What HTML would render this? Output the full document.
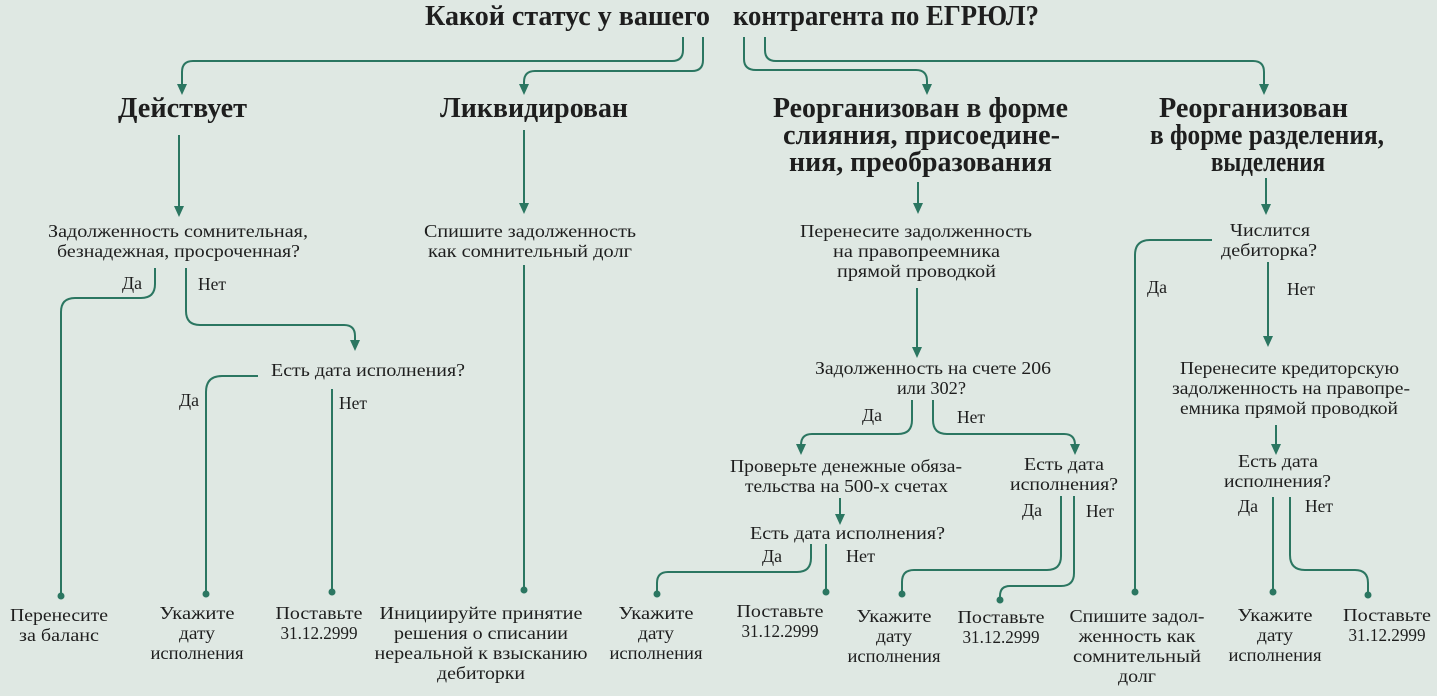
<!DOCTYPE html>
<html><head><meta charset="utf-8"><style>
html,body{margin:0;padding:0;background:#dfe8e3;}
svg{display:block}
text{font-family:"Liberation Serif",serif;fill:#1e1e1e;}
.h{font-size:28px;font-weight:bold;}
.b{font-size:18px;}
.l{fill:none;stroke:#2b7661;stroke-width:2;}
.a{fill:#2b7661;}
</style></head><body>
<svg width="1437" height="696" viewBox="0 0 1437 696" xmlns="http://www.w3.org/2000/svg">
<text class="h" x="425" y="25" textLength="285" lengthAdjust="spacingAndGlyphs">Какой статус у вашего</text>
<text class="h" x="733" y="25" textLength="306" lengthAdjust="spacingAndGlyphs">контрагента по ЕГРЮЛ?</text>
<text class="h" x="118" y="117" textLength="129" lengthAdjust="spacingAndGlyphs">Действует</text>
<text class="h" x="440" y="117" textLength="188" lengthAdjust="spacingAndGlyphs">Ликвидирован</text>
<text class="h" x="773" y="117" textLength="295" lengthAdjust="spacingAndGlyphs">Реорганизован в форме</text>
<text class="h" x="783" y="144" textLength="277" lengthAdjust="spacingAndGlyphs">слияния, присоедине-</text>
<text class="h" x="789" y="171" textLength="263" lengthAdjust="spacingAndGlyphs">ния, преобразования</text>
<text class="h" x="1159" y="117" textLength="189" lengthAdjust="spacingAndGlyphs">Реорганизован</text>
<text class="h" x="1150" y="144" textLength="234" lengthAdjust="spacingAndGlyphs">в форме разделения,</text>
<text class="h" x="1211" y="171" textLength="114" lengthAdjust="spacingAndGlyphs">выделения</text>

<g class="b">
<text x="48" y="237" textLength="260" lengthAdjust="spacingAndGlyphs">Задолженность сомнительная,</text>
<text x="57" y="257" textLength="243" lengthAdjust="spacingAndGlyphs">безнадежная, просроченная?</text>
<text x="424" y="237" textLength="212" lengthAdjust="spacingAndGlyphs">Спишите задолженность</text>
<text x="428" y="257" textLength="204" lengthAdjust="spacingAndGlyphs">как сомнительный долг</text>
<text x="800" y="237" textLength="232" lengthAdjust="spacingAndGlyphs">Перенесите задолженность</text>
<text x="833" y="257" textLength="167" lengthAdjust="spacingAndGlyphs">на правопреемника</text>
<text x="837" y="277" textLength="159" lengthAdjust="spacingAndGlyphs">прямой проводкой</text>
<text x="1230" y="236" textLength="80" lengthAdjust="spacingAndGlyphs">Числится</text>
<text x="1221" y="256" textLength="96" lengthAdjust="spacingAndGlyphs">дебиторка?</text>
<text x="122" y="289" textLength="20" lengthAdjust="spacingAndGlyphs">Да</text>
<text x="198" y="290" textLength="28" lengthAdjust="spacingAndGlyphs">Нет</text>
<text x="1147" y="293" textLength="20" lengthAdjust="spacingAndGlyphs">Да</text>
<text x="1287" y="295" textLength="28" lengthAdjust="spacingAndGlyphs">Нет</text>
<text x="271" y="376" textLength="194" lengthAdjust="spacingAndGlyphs">Есть дата исполнения?</text>
<text x="179" y="406" textLength="20" lengthAdjust="spacingAndGlyphs">Да</text>
<text x="339" y="409" textLength="28" lengthAdjust="spacingAndGlyphs">Нет</text>
<text x="815" y="374" textLength="236" lengthAdjust="spacingAndGlyphs">Задолженность на счете 206</text>
<text x="897" y="394" textLength="69" lengthAdjust="spacingAndGlyphs">или 302?</text>
<text x="862" y="421" textLength="20" lengthAdjust="spacingAndGlyphs">Да</text>
<text x="957" y="423" textLength="28" lengthAdjust="spacingAndGlyphs">Нет</text>
<text x="1180" y="374" textLength="219" lengthAdjust="spacingAndGlyphs">Перенесите кредиторскую</text>
<text x="1172" y="394" textLength="238" lengthAdjust="spacingAndGlyphs">задолженность на правопре-</text>
<text x="1180" y="414" textLength="218" lengthAdjust="spacingAndGlyphs">емника прямой проводкой</text>
<text x="730" y="472" textLength="232" lengthAdjust="spacingAndGlyphs">Проверьте денежные обяза-</text>
<text x="745" y="492" textLength="203" lengthAdjust="spacingAndGlyphs">тельства на 500-х счетах</text>
<text x="1024" y="470" textLength="80" lengthAdjust="spacingAndGlyphs">Есть дата</text>
<text x="1010" y="490" textLength="108" lengthAdjust="spacingAndGlyphs">исполнения?</text>
<text x="1238" y="467" textLength="80" lengthAdjust="spacingAndGlyphs">Есть дата</text>
<text x="1224" y="487" textLength="107" lengthAdjust="spacingAndGlyphs">исполнения?</text>
<text x="750" y="539" textLength="195" lengthAdjust="spacingAndGlyphs">Есть дата исполнения?</text>
<text x="1022" y="516" textLength="20" lengthAdjust="spacingAndGlyphs">Да</text>
<text x="1086" y="517" textLength="28" lengthAdjust="spacingAndGlyphs">Нет</text>
<text x="1238" y="512" textLength="20" lengthAdjust="spacingAndGlyphs">Да</text>
<text x="1305" y="512" textLength="28" lengthAdjust="spacingAndGlyphs">Нет</text>
<text x="762" y="562" textLength="20" lengthAdjust="spacingAndGlyphs">Да</text>
<text x="846" y="562" textLength="29" lengthAdjust="spacingAndGlyphs">Нет</text>
</g>
<g class="b" text-anchor="middle">
<text x="59" y="621" textLength="98" lengthAdjust="spacingAndGlyphs">Перенесите</text><text x="59" y="641" textLength="80" lengthAdjust="spacingAndGlyphs">за баланс</text>
<text x="197" y="619" textLength="75" lengthAdjust="spacingAndGlyphs">Укажите</text><text x="197" y="639" textLength="36" lengthAdjust="spacingAndGlyphs">дату</text><text x="197" y="659" textLength="93" lengthAdjust="spacingAndGlyphs">исполнения</text>
<text x="319" y="619" textLength="87" lengthAdjust="spacingAndGlyphs">Поставьте</text><text x="319" y="639" textLength="77" lengthAdjust="spacingAndGlyphs">31.12.2999</text>
<text x="481" y="619" textLength="203" lengthAdjust="spacingAndGlyphs">Инициируйте принятие</text>
<text x="481" y="639" textLength="174" lengthAdjust="spacingAndGlyphs">решения о списании</text>
<text x="481" y="659" textLength="213" lengthAdjust="spacingAndGlyphs">нереальной к взысканию</text>
<text x="481" y="679" textLength="88" lengthAdjust="spacingAndGlyphs">дебиторки</text>
<text x="656" y="619" textLength="75" lengthAdjust="spacingAndGlyphs">Укажите</text><text x="656" y="639" textLength="36" lengthAdjust="spacingAndGlyphs">дату</text><text x="656" y="659" textLength="93" lengthAdjust="spacingAndGlyphs">исполнения</text>
<text x="780" y="617" textLength="87" lengthAdjust="spacingAndGlyphs">Поставьте</text><text x="780" y="637" textLength="77" lengthAdjust="spacingAndGlyphs">31.12.2999</text>
<text x="894" y="622" textLength="75" lengthAdjust="spacingAndGlyphs">Укажите</text><text x="894" y="642" textLength="36" lengthAdjust="spacingAndGlyphs">дату</text><text x="894" y="662" textLength="93" lengthAdjust="spacingAndGlyphs">исполнения</text>
<text x="1001" y="623" textLength="87" lengthAdjust="spacingAndGlyphs">Поставьте</text><text x="1001" y="643" textLength="77" lengthAdjust="spacingAndGlyphs">31.12.2999</text>
<text x="1137" y="622" textLength="135" lengthAdjust="spacingAndGlyphs">Спишите задол-</text><text x="1137" y="642" textLength="117" lengthAdjust="spacingAndGlyphs">женность как</text><text x="1137" y="662" textLength="128" lengthAdjust="spacingAndGlyphs">сомнительный</text><text x="1137" y="682" textLength="38" lengthAdjust="spacingAndGlyphs">долг</text>
<text x="1275" y="621" textLength="75" lengthAdjust="spacingAndGlyphs">Укажите</text><text x="1275" y="641" textLength="36" lengthAdjust="spacingAndGlyphs">дату</text><text x="1275" y="661" textLength="93" lengthAdjust="spacingAndGlyphs">исполнения</text>
<text x="1387" y="621" textLength="88" lengthAdjust="spacingAndGlyphs">Поставьте</text><text x="1387" y="641" textLength="77" lengthAdjust="spacingAndGlyphs">31.12.2999</text>
</g>

<g class="l">
<path d="M683 37 V50 Q683 61 672 61 H193 Q182 61 182 72 V86"/>
<path d="M703 37 V60 Q703 71 692 71 H535 Q524 71 524 82 V86"/>
<path d="M744 37 V59 Q744 70 756 70 H916 Q927 70 927 81 V86"/>
<path d="M765 37 V50 Q765 61 776 61 H1253 Q1264 61 1264 72 V86"/>
<path d="M179 135 V208"/>
<path d="M524 130 V205"/>
<path d="M918 182 V205"/>
<path d="M1266 178 V206"/>
<path d="M917 288 V349"/>
<path d="M155 268 V284 Q155 298 141 298 H75 Q61 298 61 312 V596"/>
<path d="M186 268 V311 Q186 325 200 325 H344 Q355 325 355 336 V342"/>
<path d="M258 376 H222 Q206 376 206 392 V594"/>
<path d="M332 389 V592"/>
<path d="M524 265 V590"/>
<path d="M912 400 V420 Q912 434 898 434 H812 Q801 434 801 445 V446"/>
<path d="M933 400 V420 Q933 434 947 434 H1064 Q1075 434 1075 445 V446"/>
<path d="M840 498 V516"/>
<path d="M811 544 V558 Q811 572 797 572 H668 Q657 572 657 583 V594"/>
<path d="M826 544 V592"/>
<path d="M1061 496 V556 Q1061 570 1047 570 H914 Q902 570 902 582 V594"/>
<path d="M1074 496 V573 Q1074 586 1061 586 H1010 Q1000 586 1000 596 V600"/>
<path d="M1212 240 H1150 Q1135 240 1135 255 V592"/>
<path d="M1268 262 V338"/>
<path d="M1276 425 V446"/>
<path d="M1273 497 V592"/>
<path d="M1290 497 V555 Q1290 570 1305 570 H1355 Q1368 570 1368 583 V595"/>
</g>
<g class="a">
<polygon points="177,84 187,84 182,95"/>
<polygon points="519,84 529,84 524,95"/>
<polygon points="922,84 932,84 927,95"/>
<polygon points="1259,84 1269,84 1264,95"/>
<polygon points="174,206 184,206 179,217"/>
<polygon points="519,203 529,203 524,214"/>
<polygon points="913,203 923,203 918,214"/>
<polygon points="1261,204 1271,204 1266,215"/>
<polygon points="912,347 922,347 917,358"/>
<polygon points="350,340 360,340 355,351"/>
<polygon points="796,444 806,444 801,455"/>
<polygon points="1070,444 1080,444 1075,455"/>
<polygon points="835,514 845,514 840,525"/>
<polygon points="1263,336 1273,336 1268,347"/>
<polygon points="1271,444 1281,444 1276,455"/>
</g>
<g class="a">
<circle cx="61" cy="596" r="3.5"/>
<circle cx="206" cy="594" r="3.5"/>
<circle cx="332" cy="592" r="3.5"/>
<circle cx="524" cy="590" r="3.5"/>
<circle cx="657" cy="594" r="3.5"/>
<circle cx="826" cy="592" r="3.5"/>
<circle cx="902" cy="594" r="3.5"/>
<circle cx="1000" cy="600" r="3.5"/>
<circle cx="1135" cy="592" r="3.5"/>
<circle cx="1273" cy="592" r="3.5"/>
<circle cx="1368" cy="595" r="3.5"/>
</g>
</svg>
</body></html>
